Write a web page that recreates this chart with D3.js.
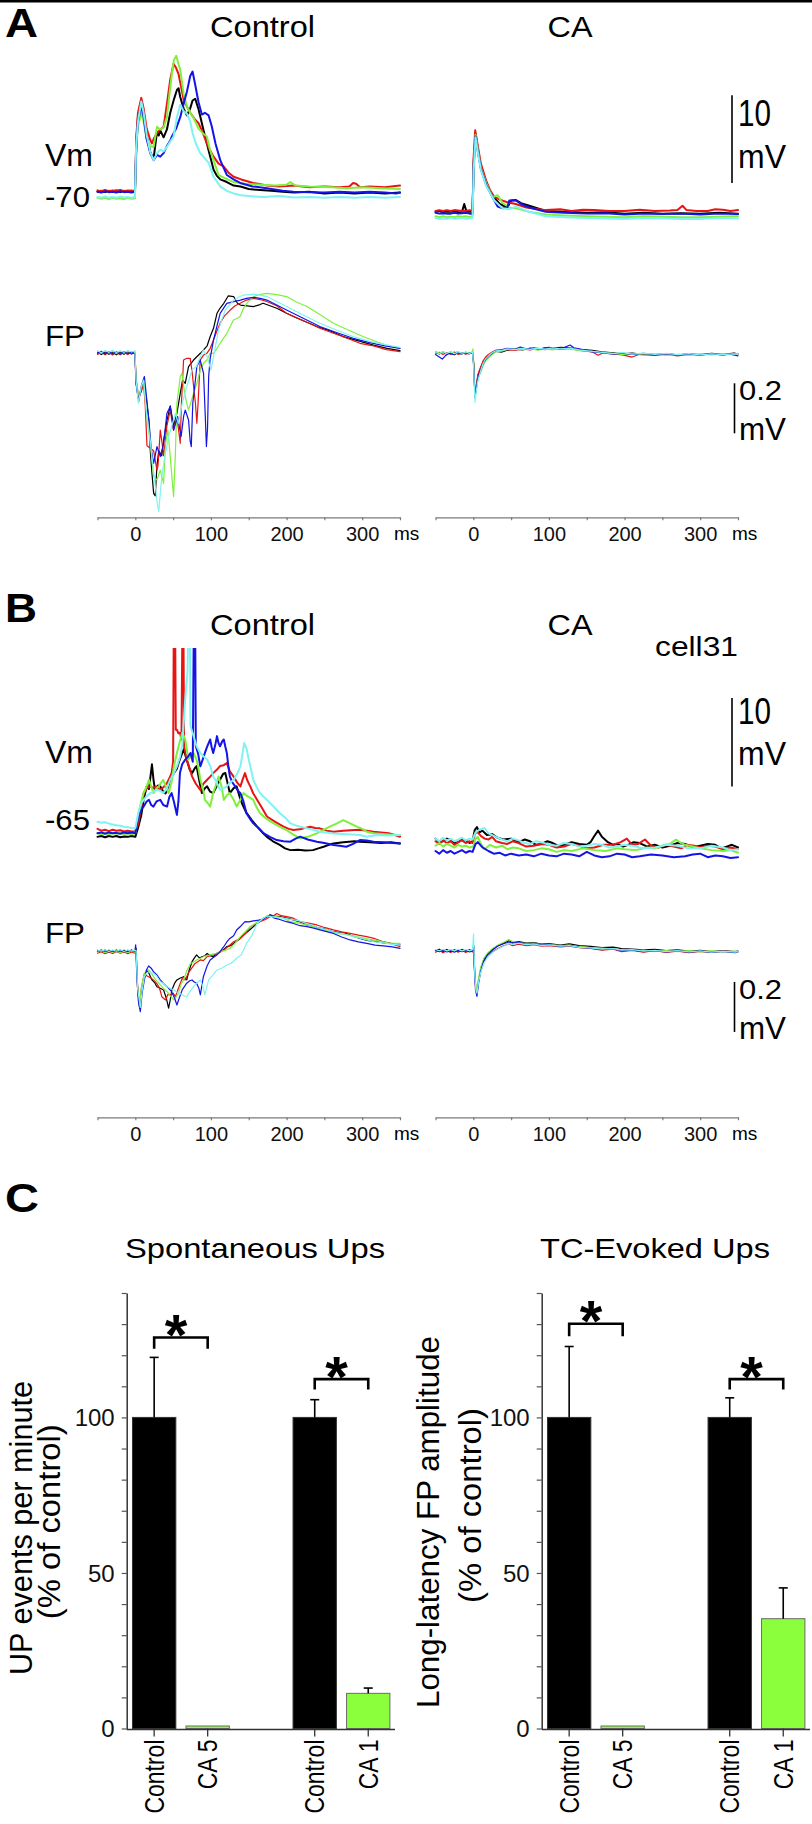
<!DOCTYPE html>
<html><head><meta charset="utf-8">
<script src="https://cdn.jsdelivr.net/npm/d3@7"></script>
<style>html,body{margin:0;padding:0;background:#fff;} svg{display:block;}</style>
</head><body>
<script>
// ================= DATA =================
const traceColors = ['#000000', '#e81414', '#7ef03c', '#1414e6', '#7ff3f3']; // black, red, green, blue, cyan
const timeTicks = [-50, 0, 50, 100, 150, 200, 250, 300, 350];
const timeLabels = [0, 100, 200, 300];

// Panel A, Vm, Control (ms, mV)
const aVmCtrl = [
 [[-50,-70.0],[-45,-69.9],[-40,-70.05],[-35,-69.9],[-30,-70.0],[-25,-69.85],[-20,-70.05],[-15,-69.9],[-10,-70.0],[-5,-69.9],[-0.5,-70.0],[1.5,-64.0],[3.5,-61.5],[7.9,-59.9],[11,-61.0],[15,-63.5],[19.8,-65.5],[24.2,-66.2],[28.6,-63.2],[31,-63.6],[33,-63.0],[37.4,-63.8],[41.8,-62.9],[46.2,-61.0],[50.6,-59.6],[55,-58.4],[57.2,-58.2],[59.4,-59.2],[63.8,-60.5],[68.2,-61.3],[72.6,-60.5],[75.7,-59.6],[79.2,-59.4],[83.6,-60.6],[85.8,-61.4],[90.2,-63.0],[94.6,-64.5],[99,-66.0],[103.5,-67.5],[108,-68.2],[112.3,-68.6],[121,-68.9],[130,-69.3],[139,-69.4],[150,-69.7],[165,-69.8],[180,-69.9],[195,-70.0],[210,-70.1],[230,-70.0],[250,-70.2],[270,-70.1],[290,-70.2],[310,-70.1],[330,-70.2],[350,-70.1]],
 [[-50,-69.85],[-45,-69.95],[-40,-69.8],[-35,-69.95],[-30,-69.85],[-25,-69.9],[-20,-69.8],[-15,-69.95],[-10,-69.85],[-5,-69.9],[-0.5,-69.9],[1.5,-63.5],[3.5,-61.0],[7.9,-59.3],[11,-60.5],[15,-62.8],[19.8,-64.1],[22,-64.5],[24.2,-64.0],[28.6,-63.3],[33,-62.9],[37.4,-62.6],[41.8,-60.0],[46.2,-57.2],[50.6,-55.4],[54,-55.9],[57.2,-56.6],[61.6,-58.5],[63.8,-59.5],[68.2,-60.3],[72.6,-61.0],[79.2,-61.8],[83.6,-62.2],[88,-63.0],[94.6,-64.5],[99,-65.3],[103.5,-66.0],[110,-66.8],[116.7,-67.1],[123,-67.8],[130,-68.3],[140,-68.6],[156,-69.0],[174,-69.3],[190,-69.4],[209,-69.3],[230,-69.5],[250,-69.4],[270,-69.5],[283,-69.4],[288,-69.0],[292,-69.1],[297,-69.5],[310,-69.4],[330,-69.5],[350,-69.3]],
 [[-50,-70.7],[-45,-70.8],[-40,-70.7],[-35,-70.85],[-30,-70.7],[-25,-70.8],[-20,-70.75],[-15,-70.85],[-10,-70.7],[-5,-70.8],[-0.5,-70.75],[1.5,-64.5],[3.5,-62.5],[7.9,-61.0],[11,-62.0],[15,-64.0],[19.8,-64.8],[24.2,-64.9],[28.6,-62.6],[33,-62.9],[37.4,-62.7],[41.8,-61.5],[45,-59.0],[48.4,-56.5],[51,-55.0],[54.1,-54.5],[57,-55.4],[59.4,-56.1],[63.8,-58.8],[68,-60.2],[72.6,-61.0],[77,-61.6],[83.6,-62.8],[90,-63.4],[94.6,-63.7],[99,-65.3],[103.5,-66.4],[110,-68.1],[120,-68.5],[130,-68.9],[145,-69.1],[165,-69.2],[185,-69.3],[200,-69.2],[205,-68.9],[212,-69.3],[230,-69.4],[260,-69.5],[280,-69.6],[300,-69.5],[325,-69.6],[350,-69.7]],
 [[-50,-70.0],[-45,-70.1],[-40,-69.95],[-35,-70.05],[-30,-70.0],[-25,-70.1],[-20,-69.95],[-15,-70.05],[-10,-70.0],[-5,-70.1],[-0.5,-70.0],[1.5,-64.5],[3.5,-62.0],[7.9,-60.2],[11,-61.5],[15,-64.0],[19.8,-65.6],[24.2,-66.4],[28.6,-65.8],[33,-66.0],[37.4,-65.6],[41.8,-64.8],[46,-64.2],[48.4,-63.7],[54,-62.8],[59.4,-61.5],[63.8,-60.0],[68.2,-58.6],[72.6,-56.8],[75.7,-56.3],[79.2,-57.8],[83.6,-59.8],[88,-61.2],[92,-61.0],[96.9,-61.3],[101,-62.5],[106,-64.5],[112.3,-66.4],[121.1,-68.1],[130,-68.6],[138.7,-69.0],[155,-69.4],[174,-69.6],[195,-69.9],[209,-70.0],[230,-70.05],[250,-70.1],[270,-70.0],[290,-70.1],[310,-70.0],[330,-70.1],[345,-70.2],[350,-70.1]],
 [[-50,-70.6],[-45,-70.7],[-40,-70.55],[-35,-70.7],[-30,-70.6],[-25,-70.7],[-20,-70.55],[-15,-70.65],[-10,-70.6],[-5,-70.7],[-0.5,-70.6],[1,-65.0],[3.5,-62.0],[7.9,-59.7],[11,-61.0],[15,-63.5],[19.8,-65.5],[24.2,-66.4],[28.6,-65.6],[33,-65.2],[37.4,-65.4],[41.8,-64.9],[46,-64.3],[50.6,-63.7],[55,-61.5],[59.4,-60.1],[63.8,-60.8],[68.2,-61.1],[72.6,-62.0],[75.7,-63.3],[80,-64.5],[85.8,-65.6],[90,-66.0],[96.9,-66.7],[103.5,-68.3],[112.3,-69.4],[121,-69.9],[129.9,-70.2],[140,-70.4],[150,-70.5],[170,-70.6],[190,-70.5],[210,-70.65],[230,-70.6],[250,-70.7],[270,-70.6],[290,-70.7],[310,-70.6],[330,-70.7],[350,-70.6]]
];

// Panel A, Vm, CA
const aVmCA = [
 [[-50,-72.3],[-45,-72.2],[-40,-72.35],[-35,-72.25],[-30,-72.3],[-25,-72.2],[-20,-72.35],[-15,-72.3],[-12,-71.4],[-9,-72.3],[-5,-72.25],[-1,-72.3],[0.5,-66.5],[3,-63.4],[6,-65.2],[10,-67.2],[16.8,-68.9],[22,-70.0],[27.8,-70.7],[35,-71.4],[45,-71.8],[50,-71.0],[56.4,-70.95],[63,-71.3],[74,-71.6],[96,-72.2],[120,-72.3],[150,-72.4],[175,-72.35],[200,-72.5],[225,-72.4],[250,-72.5],[275,-72.45],[300,-72.5],[325,-72.4],[350,-72.5]],
 [[-50,-72.2],[-45,-72.1],[-40,-72.2],[-35,-72.1],[-30,-72.2],[-25,-72.1],[-20,-72.15],[-15,-72.2],[-10,-72.2],[-5,-72.1],[-1,-72.2],[0.5,-66.0],[2.5,-63.0],[6,-64.8],[10,-66.8],[16.8,-68.7],[22,-69.8],[27.8,-70.6],[35,-70.9],[45,-71.2],[56,-71.4],[70,-71.8],[96,-72.1],[115,-72.0],[130,-72.2],[145,-72.05],[160,-72.1],[180,-72.2],[200,-72.2],[220,-72.05],[240,-72.2],[260,-72.15],[270,-72.1],[276.6,-71.6],[282,-72.1],[295,-72.2],[310,-72.2],[320,-72.0],[330,-72.05],[340,-72.2],[350,-72.1]],
 [[-50,-72.8],[-45,-72.9],[-40,-72.8],[-35,-72.9],[-30,-72.85],[-25,-72.9],[-20,-72.8],[-15,-72.85],[-10,-72.8],[-5,-72.9],[-1,-72.8],[0.5,-67.0],[3,-63.5],[6,-65.3],[10,-67.3],[16.8,-69.0],[25,-70.6],[32.2,-70.4],[38.8,-71.3],[47.6,-71.8],[56.4,-71.9],[74,-72.3],[96,-72.6],[120,-72.7],[150,-72.8],[175,-72.85],[200,-72.9],[225,-72.8],[250,-72.85],[275,-72.9],[300,-72.9],[325,-72.85],[350,-72.8]],
 [[-50,-72.4],[-45,-72.5],[-40,-72.45],[-35,-72.5],[-30,-72.5],[-25,-72.4],[-20,-72.5],[-15,-72.45],[-10,-72.4],[-5,-72.5],[-1,-72.5],[0.5,-67.0],[3,-63.7],[6,-65.4],[10,-67.4],[16.8,-69.2],[27.8,-71.0],[32.2,-71.7],[38.8,-71.9],[45,-71.8],[47.6,-71.0],[56.4,-71.0],[63,-71.4],[74,-71.8],[96,-72.3],[120,-72.4],[150,-72.5],[175,-72.45],[200,-72.6],[225,-72.5],[250,-72.55],[275,-72.5],[300,-72.6],[325,-72.5],[350,-72.55]],
 [[-50,-73.0],[-45,-73.1],[-40,-73.05],[-35,-73.1],[-30,-73.0],[-25,-73.1],[-20,-73.05],[-15,-73.0],[-10,-73.1],[-5,-73.05],[-1,-73.0],[0.5,-67.5],[3,-63.8],[6,-65.5],[10,-67.5],[16.8,-69.3],[27.8,-71.0],[38.8,-71.9],[47.6,-72.0],[56.4,-71.7],[74,-72.3],[96,-72.8],[120,-72.9],[150,-73.0],[175,-73.05],[200,-73.1],[225,-73.0],[250,-73.05],[275,-73.1],[300,-73.1],[325,-73.0],[350,-73.05]]
];

// Panel A, FP, Control (ms, mV)
const aFpCtrl = [
 [[-50,0.005],[-45,-0.005],[-40,0.006],[-35,-0.004],[-30,0.004],[-25,-0.006],[-20,0.005],[-15,-0.004],[-10,0.006],[-5,-0.003],[-0.5,0.002],[1,-0.12],[4,-0.18],[8,-0.15],[11,-0.11],[14,-0.17],[18,-0.27],[20,-0.4],[22,-0.48],[24.2,-0.56],[26.4,-0.57],[28.6,-0.45],[31,-0.39],[35,-0.41],[37.4,-0.35],[41.8,-0.27],[46.2,-0.21],[50.6,-0.29],[55,-0.24],[59.4,-0.16],[62.5,-0.107],[66,-0.12],[70.4,-0.053],[77,-0.027],[86,0.0],[90,0.013],[95,0.03],[99,0.067],[103.4,0.1],[108,0.16],[112,0.18],[117,0.2],[123,0.23],[130,0.227],[135,0.2],[139,0.193],[148,0.19],[156,0.187],[165,0.195],[169,0.2],[178,0.19],[187,0.18],[200,0.16],[209,0.147],[222,0.13],[240,0.107],[257,0.09],[275,0.067],[295,0.05],[315,0.033],[333,0.02],[350,0.011]],
 [[-50,-0.005],[-45,0.004],[-40,-0.006],[-35,0.003],[-30,-0.007],[-25,0.004],[-20,-0.006],[-15,0.003],[-10,-0.005],[-5,0.004],[-0.5,-0.003],[1,-0.1],[4.4,-0.18],[8,-0.15],[11,-0.127],[13,-0.2],[15.4,-0.37],[19.8,-0.38],[24.2,-0.39],[28.6,-0.467],[30,-0.45],[33,-0.307],[35,-0.35],[37.4,-0.41],[41.8,-0.29],[46.2,-0.227],[50.6,-0.307],[55,-0.253],[59.4,-0.36],[61,-0.2],[63.8,-0.027],[68,-0.02],[72.6,-0.02],[74.8,-0.067],[77,-0.13],[79.5,-0.2],[81.4,-0.28],[83,-0.2],[85.8,-0.027],[90.2,-0.007],[94.6,0.0],[99,0.02],[103.4,0.053],[108,0.09],[112.2,0.12],[118,0.15],[125.4,0.173],[132,0.19],[138.6,0.2],[147,0.213],[156.2,0.22],[165,0.215],[173.8,0.207],[187,0.19],[200,0.16],[215,0.14],[230,0.12],[244,0.1],[262,0.08],[280,0.06],[297,0.04],[315,0.03],[332,0.015],[350,0.007]],
 [[-50,0.008],[-45,0.0],[-40,0.009],[-35,0.002],[-30,0.007],[-25,-0.001],[-20,0.008],[-15,0.001],[-10,0.007],[-5,0.002],[-0.5,0.008],[1,-0.1],[4,-0.17],[8,-0.14],[11,-0.107],[15,-0.253],[19.8,-0.36],[22,-0.43],[24.2,-0.493],[28.6,-0.507],[33,-0.467],[37.4,-0.52],[40,-0.36],[43,-0.307],[46.2,-0.413],[48.5,-0.5],[50.6,-0.573],[53,-0.4],[55,-0.2],[59.4,-0.093],[61.6,-0.08],[66,-0.173],[70.4,-0.227],[77,-0.16],[81.4,-0.12],[85.8,-0.067],[90.2,-0.04],[94.6,-0.027],[99,0.0],[103.4,0.0],[108,0.02],[112.2,0.04],[121,0.08],[129.8,0.133],[135,0.14],[138.6,0.147],[143,0.18],[147.4,0.2],[154,0.22],[161,0.233],[173.8,0.24],[187,0.235],[200,0.227],[213,0.205],[227,0.187],[244,0.155],[262,0.12],[280,0.095],[301,0.067],[320,0.045],[335,0.03],[350,0.02]],
 [[-50,0.0],[-45,0.008],[-40,-0.003],[-35,0.007],[-30,-0.002],[-25,0.006],[-20,-0.004],[-15,0.007],[-10,-0.002],[-5,0.005],[-0.5,-0.003],[1,-0.12],[4.4,-0.193],[8,-0.13],[12,-0.093],[15,-0.18],[18,-0.27],[21,-0.38],[24.2,-0.44],[28.6,-0.373],[33,-0.413],[37.4,-0.36],[41.8,-0.24],[46.2,-0.213],[50.6,-0.307],[56,-0.253],[60.5,-0.333],[64,-0.25],[66,-0.227],[70.4,-0.267],[72.5,-0.35],[74,-0.373],[76,-0.2],[77,-0.173],[81.4,-0.053],[85.8,-0.027],[90.2,-0.08],[92.5,-0.25],[94,-0.373],[95.5,-0.3],[97,-0.093],[99,-0.02],[103.4,0.053],[108,0.11],[112.2,0.16],[121,0.2],[130,0.207],[139,0.213],[147,0.22],[156,0.224],[165,0.22],[174,0.213],[187,0.193],[200,0.173],[222,0.14],[244,0.107],[266,0.083],[288,0.06],[310,0.043],[330,0.03],[350,0.02]],
 [[-50,0.01],[-45,0.002],[-40,0.011],[-35,0.004],[-30,0.012],[-25,0.003],[-20,0.01],[-15,0.004],[-10,0.011],[-5,0.005],[-0.5,0.01],[1,-0.107],[4,-0.2],[8,-0.13],[11,-0.107],[15,-0.24],[19.8,-0.35],[22,-0.413],[26,-0.52],[29,-0.6],[31,-0.633],[33,-0.56],[35,-0.493],[39,-0.413],[44,-0.333],[48,-0.293],[53,-0.24],[57,-0.28],[62,-0.2],[68,-0.133],[75,-0.067],[81,-0.053],[86,-0.013],[90,0.013],[95,-0.013],[100,-0.067],[103.4,-0.013],[110,0.093],[115,0.14],[119,0.173],[125,0.195],[130,0.213],[137,0.225],[143,0.233],[156,0.237],[165,0.233],[174,0.227],[187,0.207],[200,0.187],[222,0.153],[244,0.12],[266,0.093],[288,0.067],[310,0.048],[330,0.035],[350,0.024]]
];

// Panel A, FP, CA
const aFpCA = [
 [[-50,0.004],[-45,-0.003],[-40,0.005],[-35,-0.004],[-30,0.002],[-25,-0.006],[-20,0.004],[-15,-0.003],[-10,0.004],[-5,-0.002],[-1,0.003],[0.5,-0.04],[2.2,-0.175],[4,-0.13],[6,-0.09],[9.7,-0.06],[13,-0.035],[16.3,-0.02],[20,-0.01],[25,0.0],[30,0.008],[38,0.005],[45,0.012],[55,0.017],[65,0.014],[75,0.02],[85,0.016],[95,0.022],[105,0.02],[115,0.024],[128,0.022],[140,0.016],[157,0.012],[170,0.006],[185,0.002],[197,-0.002],[210,0.001],[225,-0.004],[240,-0.006],[255,-0.002],[270,-0.006],[285,-0.003],[300,-0.005],[315,0.0],[330,-0.004],[345,0.001],[350,-0.003]],
 [[-50,-0.003],[-45,0.004],[-40,-0.005],[-35,0.003],[-30,-0.004],[-25,0.005],[-20,-0.005],[-15,0.002],[-10,-0.004],[-5,0.003],[-1,-0.002],[0.5,-0.04],[2.2,-0.17],[4,-0.13],[6,-0.085],[9.7,-0.055],[13,-0.03],[16.3,-0.015],[20,-0.005],[25,0.005],[30,0.012],[37,0.008],[45,0.015],[55,0.012],[65,0.018],[75,0.014],[85,0.019],[95,0.015],[105,0.021],[115,0.016],[128,0.02],[140,0.012],[157,0.006],[165,-0.008],[172,0.002],[185,-0.002],[197,-0.006],[210,-0.015],[220,-0.004],[240,-0.008],[255,-0.003],[270,-0.01],[285,-0.004],[300,-0.007],[315,-0.002],[330,-0.006],[345,0.0],[350,-0.004]],
 [[-50,0.008],[-45,0.0],[-40,0.006],[-35,-0.002],[-30,0.007],[-25,0.0],[-20,0.006],[-15,-0.003],[-10,0.005],[-5,0.0],[-1.5,0.006],[-0.5,0.018],[0.5,-0.03],[2.2,-0.16],[4,-0.14],[6,-0.1],[9.7,-0.075],[13,-0.05],[16.3,-0.03],[20,-0.018],[25,-0.005],[30,0.006],[38,0.01],[45,0.016],[55,0.02],[65,0.015],[75,0.02],[85,0.013],[95,0.018],[105,0.014],[115,0.02],[128,0.017],[140,0.012],[157,0.008],[170,0.003],[185,0.0],[197,-0.005],[210,-0.002],[225,-0.007],[240,-0.003],[255,-0.008],[270,-0.004],[285,-0.007],[300,-0.002],[315,-0.006],[330,-0.002],[345,-0.005],[350,0.0]],
 [[-50,-0.005],[-45,-0.015],[-41,-0.023],[-37,-0.01],[-32,0.0],[-27,-0.004],[-22,0.004],[-17,-0.003],[-12,0.003],[-7,-0.002],[-1,0.002],[0.5,-0.05],[2.2,-0.176],[4,-0.14],[6,-0.1],[9.7,-0.07],[13,-0.04],[16.3,-0.025],[20,-0.012],[25,0.0],[30,0.012],[38,0.015],[45,0.02],[55,0.016],[62,0.025],[70,0.018],[80,0.022],[90,0.018],[100,0.024],[110,0.02],[120,0.023],[128,0.033],[133,0.022],[140,0.018],[150,0.012],[157,0.006],[170,0.003],[185,-0.003],[197,0.001],[210,-0.004],[225,0.0],[240,-0.005],[255,-0.001],[270,-0.006],[285,-0.002],[300,-0.006],[315,-0.002],[330,-0.006],[340,-0.003],[350,-0.01]],
 [[-50,0.004],[-45,-0.002],[-40,0.006],[-35,0.0],[-30,0.005],[-25,-0.002],[-20,0.006],[-15,0.0],[-10,0.005],[-5,-0.001],[-1,0.004],[0.5,-0.06],[2.2,-0.196],[4,-0.15],[6,-0.11],[9.7,-0.07],[13,-0.04],[16.3,-0.022],[20,-0.01],[25,0.002],[30,0.01],[38,0.012],[45,0.018],[55,0.015],[65,0.02],[75,0.016],[85,0.021],[95,0.017],[105,0.022],[115,0.018],[128,0.021],[140,0.014],[157,0.008],[170,0.004],[185,-0.001],[197,0.003],[210,-0.003],[225,0.001],[240,-0.004],[255,0.0],[270,-0.005],[285,-0.001],[300,-0.006],[315,-0.002],[330,-0.005],[345,-0.002],[350,-0.004]]
];

// Panel B, Vm, Control (spikes run off the top)
const bVmCtrl = [
 [[-50,-66.0],[-45,-65.9],[-40,-66.05],[-35,-65.9],[-30,-66.0],[-25,-65.9],[-20,-66.05],[-15,-65.95],[-10,-66.0],[-5,-65.9],[0,-66.0],[4,-64.85],[8,-63.5],[11,-61.8],[15,-60.3],[18,-60.6],[22,-57.8],[24,-59.5],[26,-60.7],[30,-60.2],[33,-60.3],[37,-60.9],[40,-61.1],[44,-60.2],[46,-59.5],[51,-58.8],[55,-58.3],[57,-57.7],[60,-57.0],[64,-56.1],[68,-57.3],[72,-58.4],[75,-58.8],[79,-58.2],[81,-58.0],[85,-59.8],[88,-61.06],[92,-60.5],[95,-60.3],[99,-60.9],[103,-61.06],[108,-60.2],[112,-59.55],[116,-58.9],[119,-58.79],[123,-60.3],[125,-61.06],[130,-60.5],[134,-60.3],[138,-61.5],[141,-62.2],[147,-63.3],[154,-64.1],[161,-64.85],[168,-65.5],[174,-66.0],[182,-66.5],[191,-66.9],[198,-67.3],[205,-67.5],[215,-67.45],[225,-67.55],[235,-67.5],[242,-67.3],[249,-67.12],[256,-66.9],[262,-66.74],[275,-66.6],[290,-66.5],[297,-66.55],[310,-66.6],[325,-66.7],[338,-66.6],[350,-66.74]],
 [[-50,-65.1],[-45,-65.3],[-40,-65.2],[-35,-65.35],[-30,-65.2],[-25,-65.3],[-20,-65.25],[-15,-65.4],[-10,-65.3],[-5,-65.4],[0,-65.4],[4,-64.5],[8,-62.6],[11,-61.06],[15,-60.5],[20,-60.3],[24,-60.5],[28,-60.3],[33,-60.7],[37,-60.4],[42,-59.9],[46,-59.2],[48,-58.8],[50,-57.5],[51,-40],[52.5,-40],[53.5,-53.9],[55,-53.9],[57,-54.3],[59,-54.24],[61,-55.0],[62.5,-40],[63.5,-40],[64.5,-55.8],[68,-57.27],[72,-58.3],[75,-59.17],[80,-60.0],[86,-60.7],[90,-60.0],[95,-59.55],[99,-59.2],[103,-58.8],[108,-58.4],[112,-58.0],[117,-57.9],[121,-57.65],[125,-58.6],[130,-59.2],[135,-59.9],[139,-60.3],[142,-59.5],[145,-58.8],[148,-59.6],[152,-60.3],[156,-61.1],[161,-61.8],[168,-62.8],[174,-63.7],[185,-64.3],[196,-64.85],[203,-65.1],[209,-65.23],[220,-65.1],[231,-64.85],[238,-65.0],[244,-65.04],[253,-65.3],[262,-65.42],[275,-65.3],[290,-65.23],[297,-65.2],[306,-65.3],[315,-65.42],[325,-65.5],[335,-65.6],[343,-65.8],[350,-65.98]],
 [[-50,-65.6],[-45,-65.7],[-40,-65.55],[-35,-65.7],[-30,-65.6],[-25,-65.65],[-20,-65.55],[-15,-65.7],[-10,-65.6],[-5,-65.7],[0,-65.6],[4,-63.33],[8,-62.0],[11,-61.06],[15,-60.3],[18,-59.55],[21,-60.3],[24,-61.06],[28,-60.5],[31,-60.3],[34,-59.9],[37,-59.55],[41,-60.5],[44,-61.06],[48,-59.8],[51,-58.03],[55,-56.52],[58,-55.5],[62,-54.24],[64,-54.6],[66,-55.0],[68,-56.0],[70,-57.27],[73,-56.9],[77,-56.52],[81,-57.27],[84,-58.5],[86,-59.55],[90,-60.8],[92,-61.82],[96,-62.2],[99,-62.58],[103,-61.0],[106,-60.3],[110,-59.17],[114,-60.3],[117,-61.82],[121,-61.3],[125,-61.06],[130,-61.8],[134,-62.58],[139,-61.8],[143,-61.06],[148,-61.4],[152,-61.6],[156,-61.82],[160,-62.6],[165,-63.33],[174,-64.0],[183,-64.47],[192,-64.9],[200,-65.23],[208,-65.7],[218,-66.17],[228,-66.0],[240,-65.61],[249,-65.2],[257,-64.85],[266,-64.5],[275,-64.1],[282,-64.4],[293,-64.85],[300,-65.1],[306,-65.42],[315,-65.6],[330,-65.7],[340,-65.75],[350,-65.8]],
 [[-50,-65.6],[-45,-65.5],[-40,-65.65],[-35,-65.5],[-30,-65.6],[-25,-65.55],[-20,-65.65],[-15,-65.5],[-10,-65.6],[-5,-65.5],[0,-65.6],[4,-63.7],[8,-62.9],[11,-62.58],[15,-62.0],[18,-61.82],[21,-62.4],[24,-62.58],[28,-62.0],[33,-61.82],[37,-62.4],[42,-62.58],[45,-61.5],[48,-61.06],[51,-62.0],[55,-63.52],[57,-62.0],[59,-58.79],[62,-57.8],[66,-57.27],[70,-56.9],[73,-56.52],[76,-57.5],[77.5,-40],[79,-40],[80,-55.76],[83,-56.6],[86,-58.03],[89,-57.3],[92,-56.52],[95,-55.8],[99,-55.0],[101,-55.9],[103,-56.52],[106,-55.5],[108,-54.62],[110,-55.4],[112,-55.76],[115,-55.2],[117,-55.0],[119,-55.8],[121,-56.52],[123,-58.0],[125,-59.17],[128,-59.8],[132,-60.3],[136,-60.8],[139,-61.06],[143,-62.0],[147,-63.33],[152,-64.0],[156,-64.47],[163,-65.0],[170,-65.61],[178,-66.0],[187,-66.36],[196,-66.5],[205,-66.55],[212,-66.2],[218,-65.98],[228,-66.3],[240,-66.55],[250,-66.7],[262,-66.93],[270,-67.0],[279,-67.12],[288,-66.8],[297,-66.36],[306,-66.4],[315,-66.55],[328,-66.6],[340,-66.7],[350,-66.74]],
 [[-50,-64.3],[-45,-64.4],[-40,-64.35],[-35,-64.5],[-30,-64.6],[-25,-64.7],[-20,-64.75],[-15,-64.85],[-10,-64.9],[-5,-65.0],[0,-65.04],[4,-63.33],[8,-62.2],[11,-61.82],[15,-61.4],[20,-61.06],[24,-60.9],[28,-60.68],[33,-60.8],[37,-61.06],[42,-60.5],[46,-59.55],[51,-58.8],[55,-58.03],[59,-57.0],[62,-55.76],[66,-50.45],[69,-47.42],[70.5,-40],[72,-40],[73,-53.48],[77,-54.6],[81,-55.76],[86,-56.52],[90,-56.9],[95,-57.27],[99,-58.0],[103,-59.17],[108,-59.9],[112,-60.68],[117,-60.5],[121,-60.3],[125,-59.9],[130,-59.55],[134,-59.0],[139,-58.03],[142,-56.5],[144,-55.4],[147,-56.0],[150,-57.27],[153,-58.4],[156,-59.55],[160,-60.3],[165,-61.06],[170,-61.5],[174,-61.82],[183,-62.6],[191,-63.33],[198,-63.8],[205,-64.47],[212,-64.7],[218,-64.85],[230,-65.1],[244,-65.42],[253,-65.5],[262,-65.61],[280,-65.7],[297,-65.8],[306,-65.98],[320,-65.8],[335,-65.85],[350,-65.8]]
];

// Panel B, Vm, CA
const bVmCA = [
 [[-50,-66.2],[-45,-66.6],[-40,-66.5],[-35,-66.2],[-30,-66.3],[-25,-66.7],[-20,-66.6],[-15,-66.3],[-10,-66.4],[-5,-66.7],[-1,-66.5],[2,-65.2],[4.8,-64.9],[8,-65.5],[12,-65.3],[18,-65.8],[25,-65.7],[32,-66.1],[40,-66.3],[50,-66.2],[60,-66.6],[68,-66.3],[75,-66.5],[83,-66.9],[90,-66.8],[98,-66.5],[105,-66.7],[112,-67.0],[120,-66.9],[130,-66.6],[140,-66.8],[150,-66.9],[155,-66.6],[160,-65.9],[165,-65.3],[170,-66.0],[178,-66.6],[185,-66.9],[190,-66.8],[198,-67.1],[205,-66.9],[212,-66.6],[220,-66.7],[230,-67.1],[240,-66.9],[250,-67.2],[260,-67.0],[270,-66.7],[280,-66.8],[290,-67.2],[300,-67.0],[310,-66.8],[320,-66.9],[328,-67.3],[335,-67.1],[342,-66.9],[350,-67.2]],
 [[-50,-66.5],[-45,-66.8],[-40,-66.4],[-35,-66.7],[-30,-66.5],[-25,-66.9],[-20,-66.6],[-15,-66.4],[-10,-66.7],[-5,-66.5],[-1,-66.7],[2,-65.7],[5,-65.4],[10,-65.9],[15,-66.2],[20,-66.3],[25,-66.0],[30,-66.5],[38,-66.7],[45,-66.8],[52,-66.5],[60,-66.7],[70,-67.1],[80,-67.0],[90,-66.8],[100,-66.9],[110,-67.2],[120,-67.1],[130,-66.8],[140,-67.0],[150,-67.3],[160,-67.2],[172,-66.9],[185,-66.9],[195,-66.6],[203,-66.2],[210,-66.9],[218,-66.8],[227,-66.3],[235,-67.0],[245,-67.2],[255,-66.9],[265,-67.1],[275,-67.3],[283,-66.9],[292,-67.0],[300,-67.2],[310,-67.0],[320,-67.1],[330,-67.4],[340,-67.2],[350,-67.4]],
 [[-50,-67.0],[-45,-66.7],[-40,-67.1],[-35,-66.8],[-30,-67.0],[-25,-67.2],[-20,-66.9],[-15,-67.1],[-10,-67.0],[-5,-67.2],[0,-67.1],[3,-66.2],[6,-66.0],[10,-66.8],[15,-67.4],[22,-66.9],[30,-67.2],[38,-67.0],[45,-67.4],[52,-67.2],[60,-67.3],[70,-67.6],[80,-67.5],[90,-67.3],[100,-67.4],[110,-67.7],[120,-67.5],[130,-67.6],[145,-67.3],[160,-67.5],[175,-67.6],[190,-67.3],[200,-67.4],[215,-67.5],[230,-67.2],[240,-67.3],[250,-67.0],[260,-66.8],[268,-66.3],[275,-66.7],[280,-66.9],[290,-67.1],[300,-67.3],[315,-67.5],[330,-67.6],[340,-67.5],[350,-67.8]],
 [[-50,-67.6],[-45,-67.9],[-40,-67.5],[-35,-67.8],[-30,-67.6],[-25,-67.9],[-20,-67.7],[-15,-67.5],[-10,-67.8],[-5,-67.6],[-1,-67.7],[3,-66.8],[6,-66.6],[12,-67.2],[20,-67.6],[27,-67.9],[35,-67.8],[42,-68.1],[50,-67.9],[60,-68.1],[70,-68.0],[80,-68.2],[90,-67.9],[100,-68.1],[110,-68.2],[120,-67.9],[130,-68.0],[140,-68.2],[150,-67.7],[160,-68.1],[170,-68.3],[180,-68.2],[190,-67.9],[200,-68.0],[210,-68.3],[220,-68.2],[235,-68.0],[250,-68.1],[265,-68.3],[280,-68.2],[290,-68.0],[300,-67.9],[310,-68.3],[320,-68.1],[330,-68.2],[340,-68.4],[350,-68.3]],
 [[-50,-66.2],[-45,-66.5],[-40,-66.1],[-35,-66.4],[-30,-66.2],[-25,-66.5],[-20,-66.3],[-15,-66.1],[-10,-66.4],[-5,-66.2],[-1,-66.3],[3,-65.5],[8,-65.2],[15,-65.0],[20,-65.6],[25,-65.8],[30,-66.0],[38,-66.3],[45,-66.5],[52,-66.2],[60,-66.4],[68,-66.7],[75,-66.8],[83,-66.5],[90,-66.6],[100,-66.9],[110,-67.0],[120,-66.7],[130,-66.8],[140,-67.1],[150,-67.0],[160,-66.8],[170,-66.9],[180,-67.2],[190,-67.1],[200,-66.9],[210,-67.0],[225,-67.3],[240,-67.2],[255,-66.9],[270,-67.0],[285,-67.3],[300,-67.3],[315,-67.0],[330,-67.2],[340,-67.5],[350,-67.4]]
];

// Panel B, FP, Control
const bFpCtrl = [
 [[-50,-0.004],[-45,0.003],[-40,-0.006],[-35,0.002],[-30,-0.005],[-25,0.003],[-20,-0.006],[-15,0.002],[-10,-0.004],[-5,0.003],[-0.5,-0.004],[1,0.01],[3,-0.15],[5.7,-0.23],[8,-0.18],[11,-0.117],[15.4,-0.077],[18,-0.09],[22,-0.117],[26,-0.13],[28.6,-0.144],[33,-0.15],[37.4,-0.157],[41,-0.19],[44,-0.23],[46,-0.2],[48.4,-0.157],[52,-0.13],[55,-0.117],[59,-0.11],[63.8,-0.104],[68,-0.117],[71,-0.08],[75,-0.044],[78,-0.03],[81,-0.017],[85,-0.03],[88,-0.024],[92,-0.02],[95,-0.011],[99,-0.02],[103,-0.024],[108,-0.01],[112,-0.004],[117,0.005],[121,0.016],[126,0.02],[130,0.029],[137,0.045],[143,0.063],[150,0.08],[156,0.096],[163,0.115],[169,0.129],[178,0.143],[184,0.138],[191,0.136],[200,0.13],[209,0.123],[218,0.115],[227,0.103],[236,0.098],[244,0.09],[253,0.085],[262,0.076],[270,0.072],[279,0.069],[288,0.058],[297,0.049],[308,0.04],[319,0.036],[330,0.03],[340,0.028],[350,0.023]],
 [[-50,-0.01],[-45,-0.004],[-40,-0.012],[-35,-0.005],[-30,-0.011],[-25,-0.003],[-20,-0.01],[-15,-0.004],[-10,-0.012],[-5,-0.005],[-0.5,-0.01],[1,0.0],[3,-0.14],[5.7,-0.224],[8,-0.15],[12,-0.091],[15,-0.1],[17.6,-0.104],[21,-0.11],[24,-0.117],[28,-0.13],[31,-0.144],[33,-0.16],[35,-0.184],[40,-0.197],[43,-0.175],[46,-0.177],[50,-0.17],[53,-0.184],[57,-0.15],[62,-0.111],[66,-0.117],[70,-0.09],[73,-0.077],[79,-0.051],[86,-0.037],[90,-0.04],[95,-0.024],[103,-0.017],[110,-0.01],[117,0.003],[124,0.02],[130,0.036],[139,0.049],[146,0.07],[152,0.096],[158,0.105],[165,0.116],[172,0.125],[178,0.136],[183,0.14],[187,0.149],[193,0.14],[200,0.136],[209,0.13],[218,0.116],[229,0.11],[240,0.103],[251,0.092],[262,0.083],[273,0.075],[284,0.069],[295,0.062],[306,0.056],[317,0.048],[328,0.036],[339,0.028],[350,0.016]],
 [[-50,-0.006],[-45,0.001],[-40,-0.008],[-35,-0.001],[-30,-0.007],[-25,0.0],[-20,-0.008],[-15,-0.002],[-10,-0.007],[-5,0.0],[-0.5,-0.006],[1,0.0],[3,-0.14],[5.7,-0.217],[8,-0.15],[11,-0.104],[14,-0.08],[17.6,-0.077],[21,-0.09],[24,-0.104],[28,-0.12],[33,-0.137],[37,-0.15],[42,-0.164],[46,-0.18],[51,-0.197],[54,-0.185],[57,-0.171],[61,-0.13],[64,-0.117],[68,-0.08],[73,-0.051],[77,-0.045],[81,-0.037],[86,-0.03],[90,-0.024],[95,-0.02],[99,-0.017],[105,-0.012],[112,-0.004],[118,0.0],[125,0.009],[132,0.03],[139,0.056],[145,0.075],[152,0.096],[158,0.108],[165,0.123],[170,0.13],[174,0.139],[180,0.136],[187,0.136],[196,0.13],[205,0.116],[216,0.11],[227,0.103],[236,0.096],[244,0.085],[255,0.08],[266,0.069],[277,0.065],[288,0.059],[299,0.052],[310,0.045],[320,0.04],[335,0.03],[350,0.029]],
 [[-50,0.002],[-45,-0.004],[-40,0.003],[-35,-0.005],[-30,0.001],[-25,-0.004],[-20,0.003],[-15,-0.005],[-10,0.002],[-5,-0.003],[-0.5,0.0],[0.5,0.023],[2,-0.1],[4,-0.2],[6.6,-0.244],[9,-0.17],[12,-0.117],[15,-0.075],[17.6,-0.061],[21,-0.07],[24,-0.084],[28,-0.095],[33,-0.117],[37,-0.13],[42,-0.144],[48,-0.164],[52,-0.19],[55,-0.217],[58,-0.19],[62,-0.157],[68,-0.13],[72,-0.12],[75,-0.117],[78,-0.125],[81,-0.13],[84,-0.15],[86,-0.177],[88,-0.14],[90,-0.104],[95,-0.06],[99,-0.037],[104,-0.025],[108,-0.017],[112,-0.004],[117,0.016],[121,0.035],[125,0.049],[130,0.06],[134,0.083],[140,0.1],[145,0.116],[150,0.115],[156,0.119],[163,0.122],[169,0.125],[174,0.136],[178,0.143],[184,0.13],[191,0.125],[200,0.116],[209,0.109],[218,0.1],[227,0.096],[236,0.09],[244,0.083],[253,0.076],[262,0.069],[273,0.055],[284,0.043],[295,0.035],[306,0.029],[317,0.022],[328,0.019],[340,0.015],[350,0.009]],
 [[-50,0.003],[-45,-0.002],[-40,0.004],[-35,-0.003],[-30,0.003],[-25,-0.002],[-20,0.004],[-15,-0.003],[-10,0.003],[-5,-0.002],[-0.5,0.002],[1,0.0],[3,-0.15],[6.6,-0.227],[9,-0.16],[12,-0.104],[15,-0.09],[17.6,-0.084],[21,-0.09],[24,-0.09],[28,-0.1],[33,-0.124],[37,-0.13],[42,-0.144],[46,-0.15],[51,-0.157],[55,-0.165],[59,-0.171],[64,-0.18],[68,-0.184],[72,-0.165],[77,-0.144],[81,-0.13],[86,-0.117],[89,-0.14],[92,-0.177],[95,-0.14],[97,-0.117],[102,-0.1],[108,-0.077],[114,-0.07],[121,-0.057],[127,-0.05],[134,-0.03],[140,-0.017],[147,0.029],[154,0.06],[161,0.109],[167,0.125],[174,0.139],[180,0.136],[187,0.133],[196,0.13],[205,0.125],[216,0.12],[227,0.109],[236,0.1],[244,0.09],[255,0.083],[266,0.072],[277,0.066],[288,0.056],[300,0.048],[315,0.036],[330,0.03],[340,0.025],[350,0.023]]
];

// Panel B, FP, CA
const bFpCA = [
 [[-50,0.0],[-45,0.006],[-40,-0.003],[-35,0.005],[-30,-0.004],[-25,0.004],[-20,-0.003],[-15,0.005],[-10,-0.002],[-5,0.004],[-1,0.0],[0.5,0.02],[1.5,-0.06],[3,-0.14],[4.8,-0.17],[7,-0.12],[10,-0.07],[14,-0.035],[19,-0.012],[25,0.005],[32,0.02],[40,0.03],[47,0.04],[52,0.033],[60,0.036],[70,0.03],[80,0.032],[90,0.026],[100,0.028],[115,0.022],[127,0.027],[140,0.02],[155,0.017],[170,0.012],[185,0.014],[196,0.008],[210,0.006],[225,0.003],[240,0.005],[255,0.0],[270,0.003],[285,-0.002],[300,0.001],[315,-0.004],[330,0.0],[346,-0.004],[350,-0.002]],
 [[-50,-0.006],[-45,0.002],[-40,-0.008],[-35,0.0],[-30,-0.007],[-25,0.001],[-20,-0.006],[-15,0.002],[-10,-0.007],[-5,0.0],[-1,-0.005],[0.5,0.01],[1.5,-0.07],[3,-0.14],[4.8,-0.165],[7,-0.12],[10,-0.08],[14,-0.045],[19,-0.02],[25,-0.005],[32,0.008],[40,0.02],[47,0.027],[52,0.02],[60,0.026],[70,0.02],[80,0.024],[90,0.018],[100,0.02],[115,0.015],[127,0.018],[140,0.012],[155,0.009],[170,0.002],[185,0.006],[196,-0.004],[210,0.001],[225,-0.006],[240,0.0],[255,-0.007],[270,-0.002],[285,-0.008],[300,-0.003],[315,-0.007],[330,-0.002],[346,-0.006],[350,-0.003]],
 [[-50,0.004],[-45,-0.002],[-40,0.005],[-35,-0.003],[-30,0.004],[-25,-0.002],[-20,0.005],[-15,-0.002],[-10,0.004],[-5,-0.001],[-1,0.003],[0.5,0.015],[1.5,-0.06],[3,-0.13],[4.8,-0.16],[7,-0.11],[10,-0.065],[14,-0.03],[19,-0.01],[25,0.008],[32,0.022],[40,0.034],[47,0.045],[52,0.036],[60,0.032],[70,0.028],[80,0.03],[90,0.024],[100,0.025],[115,0.02],[127,0.022],[140,0.016],[155,0.012],[170,0.01],[185,0.006],[196,0.004],[210,0.0],[225,0.002],[240,-0.003],[255,0.0],[270,-0.004],[285,0.0],[300,-0.005],[315,-0.001],[330,-0.005],[346,-0.002],[350,-0.004]],
 [[-50,0.002],[-45,-0.004],[-40,0.003],[-35,-0.005],[-30,0.001],[-25,-0.006],[-20,0.002],[-15,-0.004],[-10,0.001],[-5,-0.005],[-1,0.0],[0.5,0.02],[1.5,-0.08],[3,-0.16],[4.8,-0.183],[7,-0.13],[10,-0.08],[14,-0.04],[19,-0.015],[25,0.002],[32,0.018],[40,0.028],[47,0.035],[52,0.03],[60,0.033],[70,0.025],[80,0.029],[90,0.022],[100,0.024],[115,0.017],[127,0.021],[140,0.013],[155,0.01],[170,0.004],[185,0.007],[196,0.0],[210,0.003],[225,-0.004],[240,0.0],[255,-0.005],[270,-0.001],[285,-0.006],[300,-0.002],[315,-0.007],[330,-0.003],[346,-0.008],[350,-0.005]],
 [[-50,0.005],[-45,0.0],[-40,0.006],[-35,-0.001],[-30,0.005],[-25,0.0],[-20,0.006],[-15,-0.001],[-10,0.005],[-5,0.0],[-1,0.004],[0.3,0.067],[1,0.0],[2,-0.1],[3.5,-0.16],[4.8,-0.17],[7,-0.125],[10,-0.085],[14,-0.05],[19,-0.025],[25,-0.008],[32,0.006],[40,0.018],[47,0.028],[52,0.025],[60,0.03],[70,0.024],[80,0.027],[90,0.02],[100,0.023],[115,0.018],[127,0.02],[140,0.013],[155,0.011],[170,0.006],[185,0.008],[196,0.002],[210,0.004],[225,-0.002],[240,0.001],[255,-0.004],[270,0.0],[285,-0.005],[300,-0.001],[315,-0.006],[330,-0.002],[346,-0.006],[350,-0.004]]
];

// Panel C bar charts (% of control)
const barConditions = ['Control', 'CA 5', 'Control', 'CA 1'];
const barIsCA = [false, true, false, true];
const spontMean = [100, 0.8, 100, 11.3];
const spontErr = [19.3, 0, 5.7, 1.7];
const evokedMean = [100, 0.8, 100, 35.3];
const evokedErr = [22.8, 0, 6.3, 9.9];
const cTicks = [0, 10, 20, 30, 40, 50, 60, 70, 80, 90, 100, 110, 120, 130, 140];
const cTickLabels = [0, 50, 100];
// significance brackets: [bar i, bar j, bracket level, leg end level]
const spontSig = [[0, 1, 125.7, 122.1], [2, 3, 112.3, 109.0]];
const evokedSig = [[0, 1, 130.1, 126.1], [2, 3, 112.3, 109.0]];

// ================= DRAWING =================
const FONT = "'Liberation Sans', Arial, Helvetica, sans-serif";
const W = 812, H = 1824;
const svg = d3.select('body').append('svg').attr('width', W).attr('height', H)
  .style('font-family', FONT);

svg.append('rect').attr('x', 0).attr('y', 0).attr('width', W).attr('height', 2.5).attr('fill', '#000');

function txt(s, x, y, size, o = {}) {
  const t = svg.append('text').attr('x', x).attr('y', y).attr('font-size', size)
    .attr('text-anchor', o.anchor || 'start').attr('font-weight', o.bold ? 'bold' : 'normal')
    .attr('fill', o.fill || '#000').text(s);
  if (o.tl) t.attr('textLength', o.tl).attr('lengthAdjust', 'spacingAndGlyphs');
  if (o.transform) t.attr('transform', o.transform);
  return t;
}

const xL = d3.scaleLinear().domain([-50, 350]).range([97.5, 400]);
const xR = d3.scaleLinear().domain([-50, 350]).range([435.5, 738]);
const yAVm = d3.scaleLinear().domain([-70, -60]).range([191.7, 104.0]);
const yAFp = d3.scaleLinear().domain([0, 0.2]).range([353.3, 303.3]);
const yBVm = d3.scaleLinear().domain([-65, -55]).range([828, 739.5]);
const yBFp = d3.scaleLinear().domain([0, 0.2]).range([950.7, 900.7]);

let clipN = 0;
function traces(series, x, y, sw, clipTop) {
  const g = svg.append('g');
  if (clipTop !== undefined) {
    const id = 'clip' + (clipN++);
    svg.append('clipPath').attr('id', id).append('rect')
      .attr('x', 0).attr('y', clipTop).attr('width', W).attr('height', 500);
    g.attr('clip-path', `url(#${id})`);
  }
  const line = d3.line().x(d => x(d[0])).y(d => y(d[1]));
  g.selectAll('path').data(series).join('path')
    .attr('d', line).attr('fill', 'none')
    .attr('stroke', (d, i) => traceColors[i]).attr('stroke-width', sw)
    .attr('stroke-linejoin', 'round').attr('stroke-linecap', 'round');
}

function vbar(x, y, v0, v1) {
  svg.append('line').attr('x1', x).attr('x2', x).attr('y1', y(v0)).attr('y2', y(v1))
    .attr('stroke', '#000').attr('stroke-width', 1.6);
}

function timeAxis(x, y0) {
  const ax = d3.axisBottom(x).tickValues(timeTicks)
    .tickFormat(d => timeLabels.includes(d) ? d : '')
    .tickSize(3).tickSizeOuter(0).tickPadding(7);
  const g = svg.append('g').attr('transform', `translate(0,${y0})`).call(ax);
  g.select('.domain').attr('stroke', '#7a7a7a').attr('stroke-width', 1.2);
  g.selectAll('.tick line').attr('stroke', '#7a7a7a').attr('stroke-width', 1.2);
  g.selectAll('.tick text').attr('font-size', 20).attr('font-family', FONT).attr('fill', '#111');
  txt('ms', x.range()[1] - 6, y0 + 23, 19);
}

// ---- Panel A ----
txt('A', 5, 37, 40, { bold: true, tl: 33 });
txt('Control', 262.5, 36.5, 30, { anchor: 'middle', tl: 105 });
txt('CA', 570, 36.5, 30, { anchor: 'middle', tl: 45 });
txt('Vm', 45, 166, 31, { tl: 48 });
txt('-70', 45, 207, 29, { tl: 45 });
traces(aVmCtrl, xL, yAVm, 2.0);
traces(aVmCA, xR, yAVm, 2.0);
vbar(732, yAVm, -69, -59);
txt('10', 738, 126, 36, { tl: 33 });
txt('mV', 738, 168, 34, { tl: 48 });

txt('FP', 45, 346, 29, { tl: 40 });
traces(aFpCtrl, xL, yAFp, 1.2);
traces(aFpCA, xR, yAFp, 1.2);
vbar(734.5, yAFp, -0.12, -0.32);
txt('0.2', 739, 400, 28, { tl: 43 });
txt('mV', 739, 440, 32, { tl: 47 });
timeAxis(xL, 517.3);
timeAxis(xR, 517.3);

// ---- Panel B ----
txt('B', 5, 622, 40, { bold: true, tl: 32 });
txt('Control', 262.5, 635, 30, { anchor: 'middle', tl: 105 });
txt('CA', 570, 635, 30, { anchor: 'middle', tl: 45 });
txt('cell31', 655, 656, 27, { tl: 83 });
txt('Vm', 45, 763, 31, { tl: 48 });
txt('-65', 45, 830, 29, { tl: 45 });
traces(bVmCtrl, xL, yBVm, 2.0, 648);
traces(bVmCA, xR, yBVm, 2.0);
vbar(732, yBVm, -60.3, -50.3);
txt('10', 738, 724, 36, { tl: 33 });
txt('mV', 738, 765, 34, { tl: 48 });

txt('FP', 45, 943, 29, { tl: 40 });
traces(bFpCtrl, xL, yBFp, 1.2);
traces(bFpCA, xR, yBFp, 1.2);
vbar(734.5, yBFp, -0.125, -0.325);
txt('0.2', 739, 999, 28, { tl: 43 });
txt('mV', 739, 1039, 32, { tl: 47 });
timeAxis(xL, 1117.3);
timeAxis(xR, 1117.3);

// ---- Panel C ----
txt('C', 5, 1212, 40, { bold: true, tl: 34 });
const yC = d3.scaleLinear().domain([0, 140]).range([1728.5, 1293]);

function barChart(o) {
  const slotKeys = ['b0', 'b1', 'gap', 'b2', 'b3'];
  const xb = d3.scaleBand().domain(slotKeys).range([o.x0, o.x1]).paddingInner(0.19).paddingOuter(0.095);
  const key = i => slotKeys[i < 2 ? i : i + 1];
  const cx = i => xb(key(i)) + xb.bandwidth() / 2;

  txt(o.title, o.titleX, 1258, 28.5, { anchor: 'middle', tl: o.titleLen });

  const ax = d3.axisLeft(yC).tickValues(cTicks).tickFormat(d => cTickLabels.includes(d) ? d : '')
    .tickSize(5).tickSizeOuter(0).tickPadding(7);
  const g = svg.append('g').attr('transform', `translate(${o.axisX},0)`).call(ax);
  g.select('.domain').attr('stroke', '#333').attr('stroke-width', 1.5);
  g.selectAll('.tick line').attr('stroke', '#555').attr('stroke-width', 1.2);
  g.selectAll('.tick text').attr('font-size', 24).attr('font-family', FONT).attr('fill', '#111')
    .attr('dy', '0.35em');

  svg.append('g').selectAll('rect').data(o.mean).join('rect')
    .attr('x', (d, i) => xb(key(i))).attr('width', xb.bandwidth())
    .attr('y', d => yC(d)).attr('height', d => yC(0) - yC(d))
    .attr('fill', (d, i) => barIsCA[i] ? '#8cff3c' : '#000')
    .attr('stroke', (d, i) => barIsCA[i] ? '#6b6b6b' : '#333').attr('stroke-width', 1);

  o.mean.forEach((m, i) => {
    if (o.err[i] <= 0) return;
    const x = cx(i);
    svg.append('line').attr('x1', x).attr('x2', x).attr('y1', yC(m)).attr('y2', yC(m + o.err[i]))
      .attr('stroke', '#000').attr('stroke-width', 1.6);
    svg.append('line').attr('x1', x - 4.5).attr('x2', x + 4.5).attr('y1', yC(m + o.err[i])).attr('y2', yC(m + o.err[i]))
      .attr('stroke', '#000').attr('stroke-width', 1.6);
  });

  svg.append('line').attr('x1', o.axisX).attr('x2', o.x1).attr('y1', yC(0) + 1).attr('y2', yC(0) + 1)
    .attr('stroke', '#333').attr('stroke-width', 1.5);
  barConditions.forEach((c, i) => {
    svg.append('line').attr('x1', cx(i)).attr('x2', cx(i)).attr('y1', yC(0)).attr('y2', yC(0) + 8)
      .attr('stroke', '#333').attr('stroke-width', 1.3);
    txt(c, 0, 0, 23, { anchor: 'end', transform: `translate(${cx(i) + 9.4},${yC(0) + 11}) scale(1.2,1) rotate(-90)` });
  });

  o.sig.forEach(([a, b, hi, lo]) => {
    const x1 = cx(a), x2 = cx(b);
    svg.append('path').attr('d', `M${x1},${yC(lo)}V${yC(hi)}H${x2}V${yC(lo)}`)
      .attr('fill', 'none').attr('stroke', '#000').attr('stroke-width', 2.6);
    txt('*', (x1 + x2) / 2 - 5, yC(hi) + 17.5, 58, { bold: true, anchor: 'middle' });
  });

  o.ytitle.forEach(([s, bx, cy, len]) => {
    txt(s, 0, 0, 31, { anchor: 'middle', tl: len, transform: `translate(${bx},${cy}) rotate(-90)` });
  });
}

barChart({ x0: 127.4, x1: 395, axisX: 126.7, mean: spontMean, err: spontErr, sig: spontSig,
  title: 'Spontaneous Ups', titleX: 255, titleLen: 260,
  ytitle: [['UP events per minute', 32, 1528, 294], ['(% of control)', 60, 1521.7, 195]] });
barChart({ x0: 542.4, x1: 810, axisX: 541.7, mean: evokedMean, err: evokedErr, sig: evokedSig,
  title: 'TC-Evoked Ups', titleX: 655, titleLen: 230,
  ytitle: [['Long-latency FP amplitude', 439, 1522, 372], ['(% of control)', 480.5, 1505.5, 195]] });
</script>
</body></html>
